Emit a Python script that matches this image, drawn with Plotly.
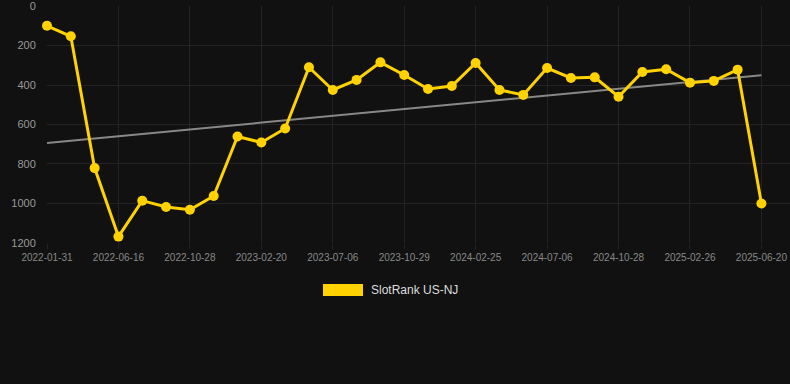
import numpy as np
import plotly.graph_objects as go

dates = [
    "2022-01-31", "2022-03-17", "2022-05-02", "2022-06-16", "2022-07-30", "2022-09-13",
    "2022-10-28", "2022-12-06", "2023-01-13", "2023-02-20", "2023-04-05", "2023-05-21",
    "2023-07-06", "2023-08-13", "2023-09-21", "2023-10-29", "2023-12-07", "2024-01-16",
    "2024-02-25", "2024-04-10", "2024-05-24", "2024-07-06", "2024-08-13", "2024-09-20",
    "2024-10-28", "2024-12-11", "2025-01-18", "2025-02-26", "2025-04-04", "2025-05-12",
    "2025-06-20",
]
ranks = [
    100, 153, 821, 1168, 986, 1018, 1032, 962, 661, 691, 620, 310,
    425, 374, 285, 349, 420, 405, 288, 425, 450, 314, 364, 361,
    459, 334, 320, 388, 379, 322, 1000,
]
tick_dates = dates[::3]
y_ticks = [0, 200, 400, 600, 800, 1000, 1200]
series_name = "SlotRank US-NJ"

idx = np.arange(len(ranks))
slope, intercept = np.polyfit(idx, ranks, 1)
trend = [intercept + slope * i for i in (0, len(ranks) - 1)]

YELLOW = "#FFD200"
BG = "#111111"
GRID = "#232323"

fig = go.Figure()
fig.add_trace(go.Scatter(
    x=[dates[0], dates[-1]], y=trend, mode="lines",
    line=dict(color="#888888", width=2), showlegend=False, hoverinfo="skip",
))
fig.add_trace(go.Scatter(
    x=dates, y=ranks, mode="lines+markers", name=series_name,
    line=dict(color=YELLOW, width=3),
    marker=dict(color=YELLOW, size=10),
    showlegend=False, cliponaxis=False,
))

fig.update_layout(
    width=790, height=384,
    paper_bgcolor=BG, plot_bgcolor=BG,
    margin=dict(l=47, r=0, t=6, b=141),
    font=dict(family="Liberation Sans, Arial, sans-serif"),
    xaxis=dict(
        type="category", categoryorder="array", categoryarray=dates,
        range=[0, 31.2],
        tickmode="array", tickvals=tick_dates, ticktext=tick_dates,
        showgrid=True, gridcolor=GRID, gridwidth=1,
        ticks="outside", ticklen=5, tickcolor=GRID,
        tickfont=dict(size=10, color="#888888"),
        zeroline=False, showline=False, ticklabeloverflow="allow",
    ),
    yaxis=dict(
        range=[1200.5, -0.5],
        tickmode="array", tickvals=y_ticks,
        showgrid=True, gridcolor=GRID, gridwidth=1,
        ticks="outside", ticklen=8, tickcolor="rgba(0,0,0,0)",
        tickfont=dict(size=11, color="#999999"),
        zeroline=False, showline=False, ticklabeloverflow="allow",
    ),
    shapes=[dict(
        type="rect", xref="paper", yref="paper",
        x0=(323 - 47) / 743, x1=(363 - 47) / 743,
        y0=(237 - 290) / 237, y1=(237 - 278) / 237,
        fillcolor=YELLOW, line=dict(width=0),
    )],
    annotations=[dict(
        text=series_name, xref="paper", yref="paper",
        x=(369 - 47) / 743, y=(237 - 284) / 237,
        xanchor="left", yanchor="middle", showarrow=False,
        font=dict(size=12, color="#dddddd"),
    )],
)

fig.write_html(
    "out.html",
    config={"displayModeBar": False},
    post_script="document.body.style.margin='0';document.body.style.background='#111111';",
)
